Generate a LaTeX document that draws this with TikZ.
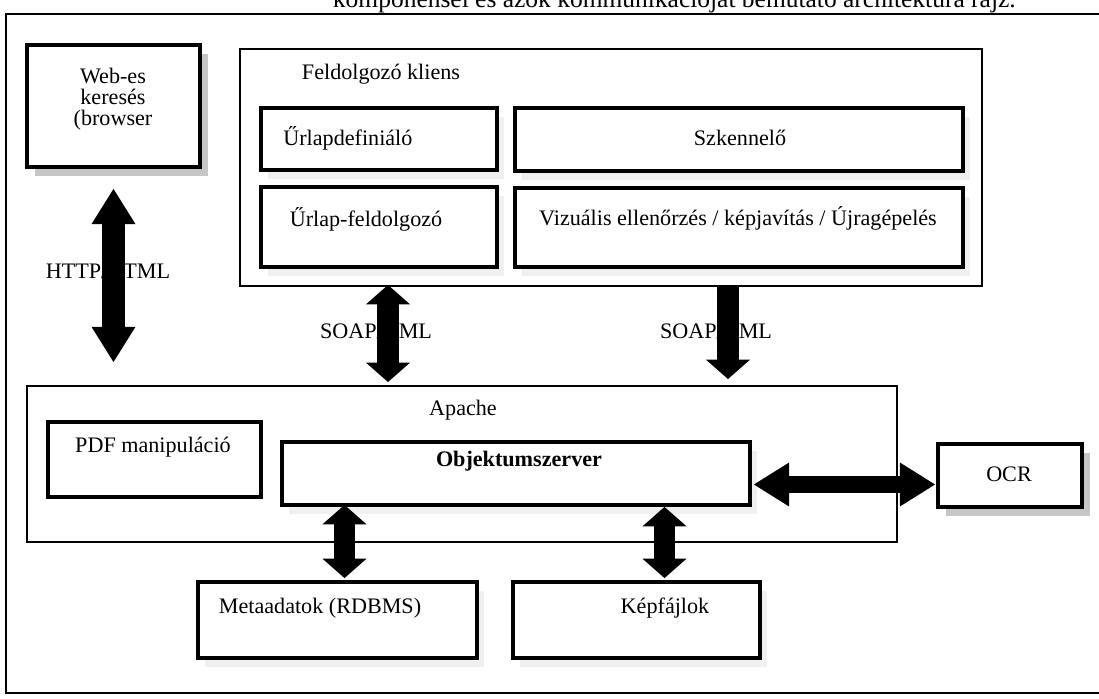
\documentclass[tikz,border=0pt]{standalone}
\usepackage{fontspec}
\setmainfont{Liberation Serif}
\usetikzlibrary{arrows.meta,positioning,fit,shadows,calc}
\tikzset{
    frame line/.style={line width=1.1pt},
    outer box/.style={draw,line width=1.1pt,inner sep=0pt},
    inner box/.style={draw,line width=2.2pt,inner sep=0pt,fill=white},
    shade/.style={drop shadow={shadow xshift=4.5pt,shadow yshift=-5pt,fill=gray!45,opacity=1}},
    faint shade/.style={drop shadow={shadow xshift=4pt,shadow yshift=-5pt,fill=gray!12,opacity=1}},
    lbl/.style={inner sep=0pt,font=\fontsize{12.6}{12}\selectfont,align=center},
    short tip/.tip={Triangle[width=25pt,length=11pt,line width=0pt]},
    long tip/.tip={Triangle[width=25pt,length=20pt,line width=0pt]},
    fat/.style={line width=12.5pt,black},
}

\begin{document}
\begin{tikzpicture}[x=0.02cm,y=-0.02cm]
    \useasboundingbox (0,0) rectangle (1099,699);
    \clip (0,0) rectangle (1099,699);
    % caption line, cut off at the top
    \node[lbl,font=\fontsize{14.5}{16}\selectfont,anchor=base east] (caption) at (1016,8) {komponensei és azok kommunikációját bemutató architektúra rajz.};
    \draw[frame line] (6,14) rectangle (1120,693);

    % browser
    \node[inner box,shade,fit={(27,45) (200,167)}] (web) {};
    \node[lbl] (webtxt) at (113,99) {Web-es\\keresés\\(browser};

    % client
    \node[outer box,fit={(240,49) (982,286)}] (kliens) {};
    \node[lbl] (klienstxt) at (381,74) {Feldolgozó kliens};
    \node[inner box,faint shade,fit={(261,108) (497,170)}] (urlapdef) {};
    \node[lbl,anchor=west] (urlapdeftxt) at (283,138) {Űrlapdefiniáló};
    \node[inner box,faint shade,fit={(515,108) (963,171)}] (szkenn) {};
    \node[lbl] (szkenntxt) at (740,138) {Szkennelő};
    \node[inner box,faint shade,fit={(261,187) (497,267)}] (urlapf) {};
    \node[lbl] (urlapftxt) at (366,219) {Űrlap-feldolgozó};
    \node[inner box,faint shade,fit={(515,188) (963,267)}] (vizualis) {};
    \node[lbl] (vizualistxt) at (738,218) {Vizuális ellenőrzés / képjavítás / Újragépelés};

    % server
    \node[outer box,fit={(27,386) (897,542)}] (apache) {};
    \node[lbl] (apachetxt) at (463,410) {Apache};
    \node[inner box,fit={(48,422) (261,497)}] (pdf) {};
    \node[lbl] (pdftxt) at (153,447) {PDF manipuláció};
    \node[inner box,faint shade,fit={(282,442) (750,505)}] (objektum) {};
    \node[lbl] (objektumtxt) at (519,461) {\bfseries Objektumszerver};
    \node[inner box,shade,fit={(938,444) (1082,507)}] (ocr) {};
    \node[lbl] (ocrtxt) at (1009,474) {OCR};

    % storage
    \node[inner box,faint shade,fit={(198,582) (477,658)}] (meta) {};
    \node[lbl] (metatxt) at (320,608) {Metaadatok (RDBMS)};
    \node[inner box,faint shade,fit={(513,582) (760,658)}] (kepf) {};
    \node[lbl] (kepftxt) at (665,608) {Képfájlok};

    % protocol labels (under the arrows)
    \node[lbl] (httplbl) at (108,271) {HTTP/HTML};
    \node[lbl] (soapa) at (376,331) {SOAP/XML};
    \node[lbl] (soapb) at (716,331) {SOAP/XML};

    % fat arrows
    \draw[fat,line width=13pt,long tip-long tip] ($(web.south)+(0,20)$) -- ($(web.south |- apache.north)+(0,-23)$);
    \draw[fat,short tip-short tip] ($(urlapf.south |- kliens.south)+(9,-2)$) -- ($(urlapf.south |- apache.north)+(9,-3)$);
    \draw[fat,-short tip] ($(vizualis.south |- kliens.south)+(-11,0)$) -- ($(vizualis.south |- apache.north)+(-11,-6)$);
    \draw[fat,line width=10pt,long tip-long tip] ($(objektum.east)+(2,11)$) -- ($(objektum.east -| ocr.west)+(-1,11)$);
    \draw[fat,short tip-short tip] ($(objektum.south -| meta.north)+(7,-2)$) -- ($(meta.north)+(7,-2)$);
    \draw[fat,short tip-short tip] ($(objektum.south -| kepf.north)+(28,0)$) -- ($(kepf.north)+(28,-2)$);
\end{tikzpicture}
\end{document}
